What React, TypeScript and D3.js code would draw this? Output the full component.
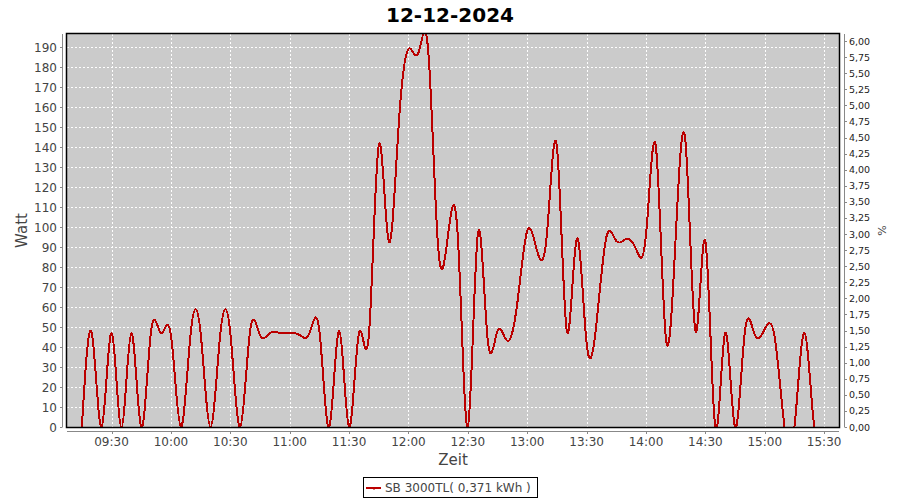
import React from "react";
import * as d3 from "d3";

const title = "12-12-2024";
const xAxisLabel = "Zeit";
const yAxisLabel = "Watt";
const rightAxisLabel = "%";
const seriesName = "SB 3000TL( 0,371 kWh )";

const times = [
  "09:15", "09:20", "09:25", "09:30", "09:35", "09:40", "09:45", "09:50", "09:55",
  "10:00", "10:05", "10:10", "10:15", "10:20", "10:25", "10:30", "10:35", "10:40", "10:45", "10:50", "10:55",
  "11:00", "11:05", "11:10", "11:15", "11:20", "11:25", "11:30", "11:35", "11:40", "11:45", "11:50", "11:55",
  "12:00", "12:05", "12:10", "12:15", "12:20", "12:25", "12:30", "12:35", "12:40", "12:45", "12:50", "12:55",
  "13:00", "13:05", "13:10", "13:15", "13:20", "13:25", "13:30", "13:35", "13:40", "13:45", "13:50", "13:55",
  "14:00", "14:05", "14:10", "14:15", "14:20", "14:25", "14:30", "14:35", "14:40", "14:45", "14:50", "14:55",
  "15:00", "15:05", "15:10", "15:15", "15:20", "15:25", "15:30",
];

const watts = [
  0, 47, 0, 47, 0, 47, 0, 48, 47,
  46, 0, 47, 47, 0, 47, 47, 0, 48, 46, 47, 47,
  47, 46, 47, 48, 0, 48, 0, 47, 46, 141, 93, 150,
  189, 187, 188, 90, 96, 94, 0, 96, 44, 48, 43, 62,
  98, 88, 97, 140, 48, 94, 42, 52, 95, 93, 94, 89,
  96, 140, 45, 95, 142, 48, 93, 0, 47, 0, 48, 46,
  49, 45, 0, 0, 47, 0, 0,
];

const xTickLabels = ["09:30", "10:00", "10:30", "11:00", "11:30", "12:00", "12:30", "13:00", "13:30", "14:00", "14:30", "15:00", "15:30"];
const yTickValues = [0, 10, 20, 30, 40, 50, 60, 70, 80, 90, 100, 110, 120, 130, 140, 150, 160, 170, 180, 190];
const rightTickLabels = [
  "0,00", "0,25", "0,50", "0,75", "1,00", "1,25", "1,50", "1,75", "2,00", "2,25", "2,50", "2,75",
  "3,00", "3,25", "3,50", "3,75", "4,00", "4,25", "4,50", "4,75", "5,00", "5,25", "5,50", "5,75", "6,00",
];

const toMin = (s: string) => {
  const [h, m] = s.split(":").map(Number);
  return h * 60 + m;
};

export default function App() {
  const W = 900, H = 500;
  const L = 67, R = 839, T = 34, B = 427;
  const tMin = times.map(toMin);
  const x = d3.scaleLinear().domain([tMin[0] - 7.5, tMin[tMin.length - 1] + 7.5]).range([L, R]);
  const y = d3.scaleLinear().domain([0, 196.5]).range([B, T]);
  const yR = d3.scaleLinear().domain([0, 6.11]).range([B, T]);
  const line = d3.line<number>().x((_, i) => x(tMin[i])).y((d) => y(d)).curve(d3.curveNatural);
  const pathD = line(watts) || "";
  const font = "'DejaVu Sans', sans-serif";
  const tickColor = "#444";
  const axisColor = "#888";

  return (
    <svg width={W} height={H} style={{ position: "absolute", left: 0, top: 0, background: "#fff" }} fontFamily={font}>
      <text x={450} y={22} textAnchor="middle" fontSize={20} fontWeight="bold" fill="#000">{title}</text>
      <defs>
        <clipPath id="plotClip">
          <rect x={L} y={T} width={R - L} height={B - T} />
        </clipPath>
      </defs>
      <rect x={L} y={T} width={R - L} height={B - T} fill="#cbcbcb" />
      {yTickValues.map((v) => (
        <line key={"gy" + v} x1={L} x2={R} y1={Math.round(y(v)) + 0.5} y2={Math.round(y(v)) + 0.5} stroke="#fff" strokeDasharray="2,2" strokeWidth={1} />
      ))}
      {xTickLabels.map((s) => (
        <line key={"gx" + s} x1={Math.round(x(toMin(s))) + 0.5} x2={Math.round(x(toMin(s))) + 0.5} y1={T} y2={B} stroke="#fff" strokeDasharray="2,2" strokeWidth={1} />
      ))}
      <path d={pathD} fill="none" stroke="#bb0000" strokeWidth={2} clipPath="url(#plotClip)" shapeRendering="crispEdges" />
      <rect x={L - 0.5} y={T - 0.5} width={R - L + 1} height={B - T + 1} fill="none" stroke="#000" strokeWidth={1.5} />

      {/* left axis */}
      <line x1={62.5} x2={62.5} y1={T} y2={B} stroke={axisColor} />
      {yTickValues.map((v) => (
        <g key={"ly" + v}>
          <line x1={60} x2={62.5} y1={Math.round(y(v)) + 0.5} y2={Math.round(y(v)) + 0.5} stroke={axisColor} />
          <text x={57} y={y(v) + 4.5} textAnchor="end" fontSize={12} fill={tickColor}>{v}</text>
        </g>
      ))}
      <text transform={`translate(27,${(T + B) / 2}) rotate(-90)`} textAnchor="middle" fontSize={15} fill={tickColor}>{yAxisLabel}</text>

      {/* bottom axis */}
      <line x1={L} x2={R} y1={431.5} y2={431.5} stroke={axisColor} />
      {xTickLabels.map((s) => (
        <g key={"bx" + s}>
          <line x1={Math.round(x(toMin(s))) + 0.5} x2={Math.round(x(toMin(s))) + 0.5} y1={431.5} y2={434} stroke={axisColor} />
          <text x={x(toMin(s))} y={446} textAnchor="middle" fontSize={12} fill={tickColor}>{s}</text>
        </g>
      ))}
      <text x={(L + R) / 2} y={465} textAnchor="middle" fontSize={15} fill={tickColor}>{xAxisLabel}</text>

      {/* right axis */}
      <line x1={844.5} x2={844.5} y1={T} y2={B} stroke={axisColor} />
      {rightTickLabels.map((s) => {
        const v = parseFloat(s.replace(",", "."));
        const yy = yR(v);
        return (
          <g key={"ry" + s}>
            <line x1={844.5} x2={847} y1={Math.round(yy) + 0.5} y2={Math.round(yy) + 0.5} stroke={axisColor} />
            <text x={849} y={yy + 3.5} fontSize={9.5} fill="#222">{s}</text>
          </g>
        );
      })}
      <text transform={`translate(886,${(T + B) / 2}) rotate(-90)`} textAnchor="middle" fontSize={11} fill={tickColor}>{rightAxisLabel}</text>

      {/* legend */}
      <rect x={363.5} y={477.5} width={174} height={20} fill="#fff" stroke="#000" strokeWidth={1} />
      <line x1={366} x2={381} y1={488} y2={488} stroke="#bb0000" strokeWidth={2} />
      <line x1={374} x2={374} y1={488} y2={490} stroke="#bb0000" strokeWidth={1} />
      <text x={385} y={492} fontSize={12} fill={tickColor}>{seriesName}</text>
    </svg>
  );
}
